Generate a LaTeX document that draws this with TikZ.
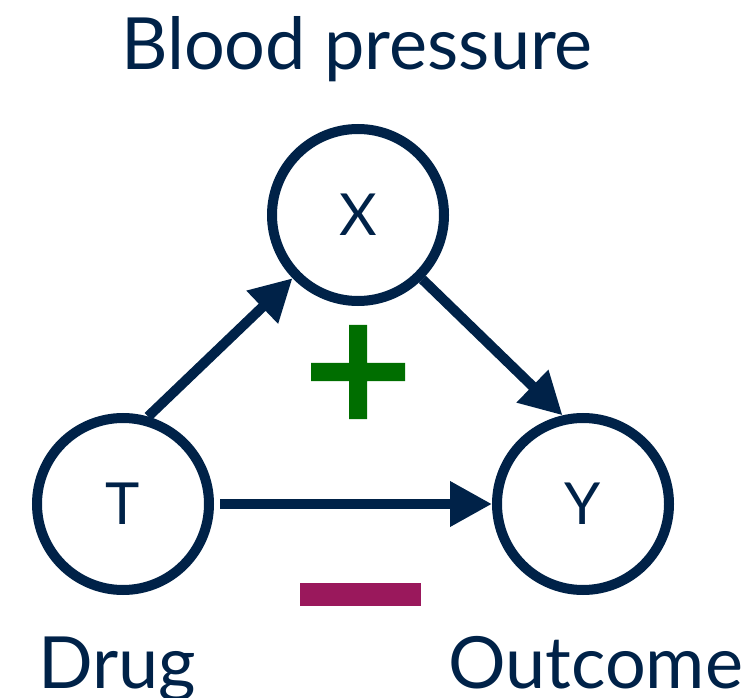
\documentclass[tikz,border=0pt]{standalone}
\usepackage{fontspec}
\setmainfont{Lato}
\usetikzlibrary{arrows.meta}
\definecolor{navy}{RGB}{0,34,72}
\definecolor{plusgreen}{RGB}{0,110,0}
\definecolor{minusplum}{RGB}{154,24,92}
\tikzset{
  var/.style={circle, draw=navy, line width=10pt, minimum size=172pt, inner sep=0pt,
    text=navy, font=\fontsize{58}{60}\selectfont},
  lbl/.style={text=navy, inner sep=0pt, font=\fontsize{72}{80}\selectfont},
  edge/.style={draw=navy, line width=10pt, -{Triangle[length=42pt,width=43pt]}}
}
\begin{document}
\begin{tikzpicture}[x=1pt,y=1pt]
  \useasboundingbox (0,0) rectangle (744,697);
  \node[var] (X) at (358,482) {X};
  \node[var] (T) at (123,193) {T};
  \node[var] (Y) at (583,193) {Y};
  \node[lbl, anchor=base] (bp) at (357,627) {Blood pressure};
  \node[lbl, anchor=base west] (drug) at (38,9) {Drug};
  \node[lbl, anchor=base west] (out) at (448,9) {Outcome};
  \draw[edge] (T.74) -- (X.224);
  \draw[edge] (X.-45) -- (Y.103);
  \draw[edge, shorten <=6pt] (T.0) -- (Y.180);
  % signs
  \fill[plusgreen] (349,278) rectangle (367,372) (311,316) rectangle (405,334);
  \fill[minusplum] (300,91) rectangle (421,114);
\end{tikzpicture}
\end{document}
